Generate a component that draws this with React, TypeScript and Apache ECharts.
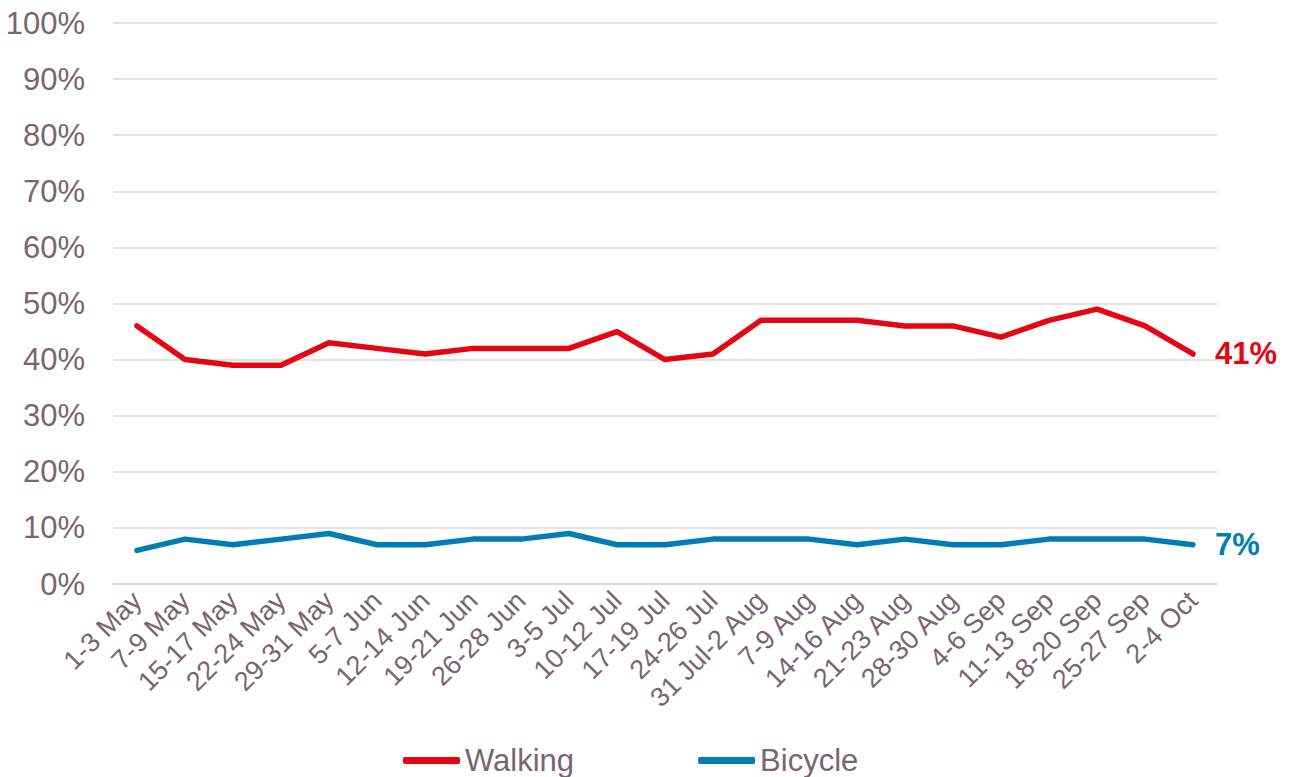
import React, { useEffect, useRef } from "react";
import * as echarts from "echarts";

const categories = [
  "1-3 May", "7-9 May", "15-17 May", "22-24 May", "29-31 May", "5-7 Jun",
  "12-14 Jun", "19-21 Jun", "26-28 Jun", "3-5 Jul", "10-12 Jul", "17-19 Jul",
  "24-26 Jul", "31 Jul-2 Aug", "7-9 Aug", "14-16 Aug", "21-23 Aug", "28-30 Aug",
  "4-6 Sep", "11-13 Sep", "18-20 Sep", "25-27 Sep", "2-4 Oct",
];
const walking = [46, 40, 39, 39, 43, 42, 41, 42, 42, 42, 45, 40, 41, 47, 47, 47, 46, 46, 44, 47, 49, 46, 41];
const bicycle = [6, 8, 7, 8, 9, 7, 7, 8, 8, 9, 7, 7, 8, 8, 8, 7, 8, 7, 7, 8, 8, 8, 7];

const TEXT = "#7A6470";
const RED = "#E30613";
const BLUE = "#007DB3";
const FONT = "Arial, 'Liberation Sans', sans-serif";

export default function App() {
  const ref = useRef<HTMLDivElement>(null);
  useEffect(() => {
    if (!ref.current) return;
    const chart = echarts.init(ref.current, undefined, { renderer: "svg" });
    chart.setOption({
      animation: false,
      textStyle: { fontFamily: FONT },
      grid: { left: 113, right: 77, top: 23, bottom: 193 },
      legend: {
        left: 398,
        top: 740,
        itemWidth: 57,
        itemHeight: 7,
        itemGap: 124,
        icon: "roundRect",
        textStyle: { color: TEXT, fontSize: 31, fontFamily: FONT },
        data: ["Walking", "Bicycle"],
      },
      xAxis: {
        type: "category",
        data: categories,
        boundaryGap: true,
        axisLine: { show: true, lineStyle: { color: "#D9D9D9", width: 1.5 } },
        axisTick: { show: false },
        axisLabel: {
          rotate: 45,
          interval: 0,
          color: TEXT,
          fontSize: 27,
          fontFamily: FONT,
          margin: 12,
        },
      },
      yAxis: {
        type: "value",
        min: 0,
        max: 100,
        interval: 10,
        axisLine: { show: false },
        axisTick: { show: false },
        splitLine: { lineStyle: { color: "#D9D9D9", width: 1.5 } },
        axisLabel: {
          formatter: "{value}%",
          color: TEXT,
          fontSize: 31,
          fontFamily: FONT,
          margin: 28,
        },
      },
      series: [
        {
          name: "Walking",
          type: "line",
          data: walking,
          symbol: "none",
          lineStyle: { color: RED, width: 5.5, cap: "round", join: "round" },
          itemStyle: { color: RED },
          endLabel: {
            show: true,
            formatter: "{c}%",
            color: RED,
            fontWeight: "bold",
            fontSize: 31,
            fontFamily: FONT,
            distance: 22,
          },
        },
        {
          name: "Bicycle",
          type: "line",
          data: bicycle,
          symbol: "none",
          lineStyle: { color: BLUE, width: 5.5, cap: "round", join: "round" },
          itemStyle: { color: BLUE },
          endLabel: {
            show: true,
            formatter: "{c}%",
            color: BLUE,
            fontWeight: "bold",
            fontSize: 31,
            fontFamily: FONT,
            distance: 22,
          },
        },
      ],
    });
    return () => chart.dispose();
  }, []);
  return <div ref={ref} style={{ width: 1294, height: 777, position: "absolute", left: 0, top: 0 }} />;
}
